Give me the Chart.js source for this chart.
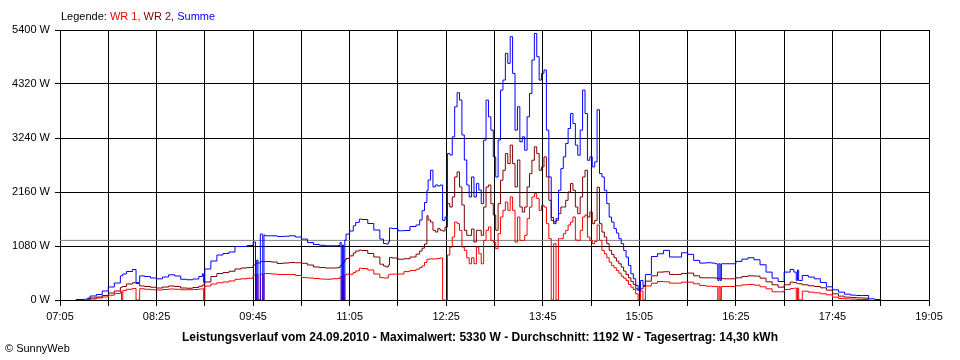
<!DOCTYPE html>
<html lang="de">
<head>
<meta charset="utf-8">
<title>Leistungsverlauf 24.09.2010</title>
<script src="https://cdn.jsdelivr.net/npm/chart.js@4.4.0/dist/chart.umd.min.js"></script>
<style>
  html, body { margin: 0; padding: 0; background: #fff; }
  #wrap { position: relative; width: 960px; height: 360px; font-family: 'Liberation Sans', Arial, sans-serif; font-size: 11px; line-height: 13px; color: #000; }
  #chart { position: absolute; left: 0; top: 0; }
  .legende { position: absolute; left: 61px; top: 10px; white-space: nowrap; }
  .titel { position: absolute; left: 0; top: 330px; width: 960px; text-align: center; font-weight: bold; font-size: 12px; line-height: 14px; white-space: nowrap; }
  .copy { position: absolute; left: 5px; top: 342px; white-space: nowrap; }
</style>
</head>
<body>
<div id="wrap">
  <canvas id="chart" width="960" height="360"></canvas>
  <div class="legende">Legende: <span style="color:#ff0000">WR 1,</span> <span style="color:#800000">WR 2,</span> <span style="color:#0000ff">Summe</span></div>
  <div class="titel">Leistungsverlauf vom 24.09.2010 - Maximalwert: 5330 W - Durchschnitt: 1192 W - Tagesertrag: 14,30 kWh</div>
  <div class="copy">© SunnyWeb</div>
</div>
<script>
// Messzeitpunkte (Uhrzeit)
const zeiten = [
  "07:18","07:25","07:28","07:30","07:35","07:40","07:45","07:50","07:55","07:56",
  "07:57","08:00","08:05","08:08","08:11","08:15","08:20","08:25","08:30","08:35",
  "08:40","08:45","08:50","08:55","09:00","09:03","09:04","09:05","09:10","09:15",
  "09:20","09:25","09:30","09:35","09:40","09:45","09:47","09:48","09:49","09:51",
  "09:53","09:54","09:55","10:00","10:05","10:10","10:15","10:20","10:25","10:30",
  "10:35","10:40","10:45","10:50","10:55","10:57","10:58","10:59","11:00","11:01",
  "11:02","11:05","11:08","11:10","11:13","11:15","11:20","11:25","11:30","11:33",
  "11:35","11:37","11:38","11:40","11:45","11:50","11:55","12:00","12:03","12:05",
  "12:07","12:09",
  "12:10","12:12","12:14","12:16","12:18","12:20","12:22","12:24","12:26","12:28",
  "12:30","12:32","12:34","12:36","12:38","12:40","12:42","12:44","12:46","12:48",
  "12:50","12:52","12:54","12:56","12:58","13:00","13:02","13:04","13:06","13:08",
  "13:10","13:12","13:14","13:16","13:18","13:20","13:22","13:24","13:26","13:28",
  "13:30","13:32","13:34","13:36","13:38","13:40","13:42","13:44","13:46","13:48",
  "13:50","13:52","13:54","13:56","13:58","14:00","14:02","14:04","14:06","14:08",
  "14:10","14:12","14:14","14:16","14:18","14:20","14:22","14:24","14:26","14:28",
  "14:30","14:32","14:34","14:36","14:38","14:40","14:42","14:44","14:46","14:48",
  "14:50","14:52","14:54","14:56","14:58","15:00","15:02","15:04","15:06","15:08",
  "15:10","15:15","15:20","15:25","15:30","15:35","15:40","15:45","15:50","15:55",
  "16:00","16:05","16:08","16:10","16:11","16:12","16:13","16:15","16:20","16:25",
  "16:30","16:35","16:40","16:45","16:50","16:55","17:00","17:05","17:10","17:13",
  "17:15","17:16","17:17","17:20","17:25","17:30","17:35","17:40","17:45","17:50",
  "17:55","18:00","18:05","18:10","18:15","18:20","18:25"
];

// Leistung in W
const summe = [
  10, 15, 40, 80, 110, 180, 260, 340, 480, 490,
  520, 570, 610, 348, 482, 470, 440, 424, 460, 504,
  480, 415, 405, 420, 470, 524, 348, 620, 780, 900,
  930, 960, 1070, 1070, 1090, 1160, 0, 800, 0, 1318,
  0, 1300, 1284, 1284, 1270, 1275, 1284, 1260, 1218, 1150,
  1110, 1095, 1084, 1084, 1090, 1150, 0, 1100, 0, 1200,
  1318, 1380, 1485, 1552, 1619, 1610, 1530, 1400, 1218, 1130,
  1120, 1160, 1438, 1430, 1385, 1390, 1470, 1500, 1600, 1786,
  1950, 2188,
  2400, 2595, 2261, 2300, 2280, 2300, 1593, 1660, 2929, 2900,
  3263, 3864, 4145, 4000, 3300, 2800, 2300, 2061, 2461, 2061,
  2328, 2200, 1927, 3196, 3998, 3664, 3397, 2862, 2461, 3200,
  4198, 4399, 4933, 4733, 5267, 4533, 3397, 3864, 3163, 3263,
  2996, 3664, 4131, 4799, 5330, 4866, 4399, 4533, 4600, 3397,
  2461, 1650, 1560, 1627, 2195, 2628, 2862, 3130, 3430, 3730,
  3530, 3097, 2896, 3397, 4198, 3730, 2795, 2862, 2662, 2762,
  3805, 2529, 2461, 2194, 1928, 1659, 1559, 1427, 1339, 1226,
  1126, 992, 858, 691, 525, 425, 291, 190, 391, 291,
  511, 870, 925, 992, 860, 860, 945, 912, 792, 738,
  745, 738, 725, 391, 725, 391, 725, 725, 725, 772,
  818, 845, 805, 705, 558, 437, 370, 558, 611, 558,
  391, 600, 391, 491, 458, 424, 350, 264, 204, 157,
  117, 97, 90, 90, 23, 10, 0
];

const wr2 = [
  null, null, 20, 40, 60, 90, 140, 180, 250, 260,
  270, 320, 345, 330, 281, 270, 255, 240, 260, 280,
  270, 240, 235, 250, 275, 300, 310, 360, 470, 530,
  549, 575, 620, 640, 649, 700, 729, 740, 740, 769,
  769, 769, 769, 760, 730, 740, 749, 745, 735, 700,
  660, 649, 640, 640, 649, 682, 700, 720, 760, 800,
  830, 883, 940, 980, 997, 990, 930, 860, 716, 680,
  662, 700, 849, 840, 816, 825, 860, 917, 980, 1037,
  1120, 1686,
  1600, 1560, 1394, 1360, 1427, 1394, 1380, 1460, 1927, 1860,
  2061, 2461, 2562, 2261, 1900, 1394, 1293, 1293, 1420, 1160,
  1394, 1394, 1293, 1860, 2261, 2300, 1927, 1700, 1394, 1927,
  2395, 2595, 2929, 2729, 3097, 2729, 2261, 2800, 1860, 1760,
  1860, 2261, 2528, 2795, 3063, 2929, 2595, 2662, 2862, 2461,
  1994, 1593, 1527, 1593, 1727, 1860, 1860, 1994, 2161, 2328,
  2195, 1860, 1727, 2061, 2461, 2595, 1660, 1760, 1527, 1593,
  2255, 1527, 1359, 1259, 1126, 992, 912, 845, 778, 725,
  658, 578, 511, 444, 371, 311, 224, 190, 224, 270,
  377, 484, 558, 565, 511, 511, 531, 538, 484, 444,
  444, 444, 437, 431, 431, 431, 428, 424, 424, 444,
  471, 484, 478, 437, 364, 304, 257, 304, 357, 350,
  337, 330, 324, 304, 284, 270, 244, 197, 124, 77,
  57, 50, 43, 37, 12, null, null
];

const wr1 = [
  null, null, 10, 20, 40, 60, 95, 130, 170, 0,
  190, 215, 230, 0, 225, 215, 205, 200, 210, 220,
  215, 205, 205, 210, 220, 225, 0, 280, 320, 345,
  360, 381, 415, 425, 435, 500, 0, 515, 0, 520,
  0, 529, 529, 520, 510, 510, 510, 490, 448, 440,
  430, 420, 415, 425, 430, 460, 0, 470, 0, 500,
  516, 516, 550, 582, 636, 630, 600, 520, 448, 440,
  440, 500, 516, 518, 520, 568, 590, 616, 650, 682,
  750, 816,
  816, 825, 820, 825, 830, 840, 0, 0, 900, 1059,
  1259, 1560, 1527, 1393, 1059, 992, 845, 725, 845, 725,
  1059, 926, 725, 1192, 1393, 1460, 1192, 1150, 1026, 1326,
  1660, 1794, 1960, 1794, 2061, 1794, 1159, 1660, 1192, 1192,
  1293, 1627, 1860, 2061, 2128, 2028, 1794, 1894, 1860, 1527,
  1226, 0, 1126, 0, 1226, 1226, 1326, 1393, 1500, 1560,
  1660, 1200, 1192, 1393, 1660, 1700, 1259, 1192, 1126, 1170,
  1500, 1192, 992, 925, 845, 758, 691, 645, 591, 537,
  477, 437, 391, 311, 257, 210, 124, 0, 180, 0,
  281, 337, 370, 364, 337, 337, 357, 357, 324, 291,
  277, 270, 270, 0, 270, 0, 270, 270, 270, 284,
  304, 311, 297, 264, 224, 164, 164, 210, 230, 237,
  0, 240, 0, 177, 157, 144, 124, 104, 57, 30,
  23, 17, 10, 10, 5, null, null
];

const durchschnitt = 1192;
const yTicks = [0, 1080, 2160, 3240, 4320, 5400];
const xLabels = ["07:05", "08:25", "09:45", "11:05", "12:25", "13:45", "15:05", "16:25", "17:45", "19:05"];

function minuten(s) {
    const [h, m] = s.split(':').map(Number);
    return h * 60 + m;
}
function uhrzeit(v) {
    const t = Math.round(v);
    return String(Math.floor(t / 60)).padStart(2, '0') + ':' + String(t % 60).padStart(2, '0');
}
const punkte = werte => werte.map((w, i) => ({ x: minuten(zeiten[i]), y: w }));

const xMin = minuten(xLabels[0]);
const xMax = minuten(xLabels[xLabels.length - 1]);

Chart.defaults.font.family = "'Liberation Sans', Arial, sans-serif";
Chart.defaults.font.size = 11;
Chart.defaults.color = '#000';

const ctx = document.getElementById('chart');
new Chart(ctx, {
    type: 'line',
    data: {
        datasets: [
            { label: 'Summe', data: punkte(summe), borderColor: '#0000ff', stepped: true },
            { label: 'WR 2', data: punkte(wr2), borderColor: '#800000', stepped: true },
            { label: 'WR 1', data: punkte(wr1), borderColor: '#ff0000', stepped: true },
            { label: 'Durchschnitt', data: [{ x: xMin, y: durchschnitt }, { x: xMax, y: durchschnitt }], borderColor: '#808080' }
        ]
    },
    options: {
        responsive: false,
        animation: false,
        devicePixelRatio: 1,
        events: [],
        layout: { padding: { left: 0, right: 31, top: 30, bottom: 0 } },
        elements: {
            line: { borderWidth: 1, tension: 0, fill: false },
            point: { radius: 0 }
        },
        scales: {
            x: {
                type: 'linear',
                min: xMin,
                max: xMax,
                afterFit: s => { s.height = 60; },
                border: { color: '#000', width: 1 },
                grid: { color: '#000', lineWidth: 1, tickLength: 6 },
                ticks: {
                    stepSize: 40,
                    autoSkip: false,
                    maxRotation: 0,
                    padding: 4,
                    callback: v => xLabels.includes(uhrzeit(v)) ? uhrzeit(v) : ''
                }
            },
            y: {
                min: yTicks[0],
                max: yTicks[yTicks.length - 1],
                afterFit: s => { s.width = 60; },
                border: { color: '#000', width: 1 },
                grid: { color: '#000', lineWidth: 1, tickLength: 5 },
                ticks: {
                    stepSize: yTicks[1] - yTicks[0],
                    padding: 5,
                    callback: v => v + ' W'
                }
            }
        },
        plugins: {
            legend: { display: false },
            tooltip: { enabled: false },
            title: { display: false }
        }
    }
});
</script>
</body>
</html>
